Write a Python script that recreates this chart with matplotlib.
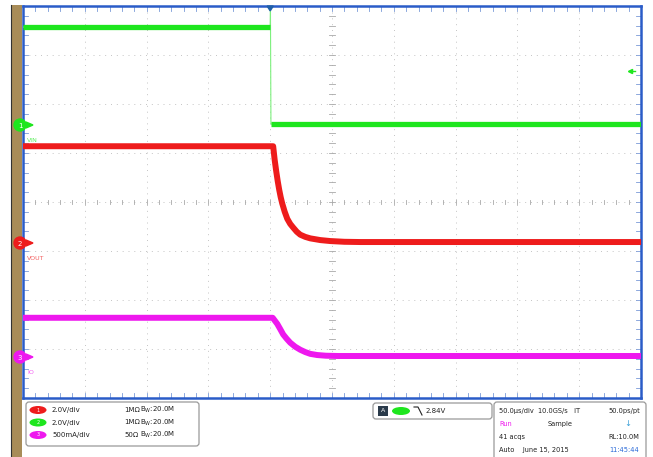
import matplotlib
matplotlib.use('Agg')
import matplotlib.pyplot as plt
from matplotlib.patches import FancyBboxPatch, Ellipse, Rectangle, Circle, Polygon

# Scope settings (50 us/div, 10 x 8 divisions, trigger at 4th division)
t_per_div = 50.0
t_trig_div = 4.0

# Channel scales and ground offsets (in divisions from the bottom)
vin_scale, vin_offset = 2.0, 5.57
vout_scale, vout_offset = 2.0, 3.163
io_scale, io_offset = 0.5, 0.837

# VIN (V) - step down at trigger with a short spike
t_vin = [-200, 0, 0.2, 0.6, 300]
vin = [4.0, 4.0, 4.7, 0.04, 0.04]

# VOUT (V) - decay
t_vout = [-200, 2.4, 3.6, 4.9, 6.1, 7.3, 8.5, 9.7, 11.7, 13.8, 16.2, 18.6,
          21.5, 24.3, 28.4, 32.4, 40.5, 48.6, 60, 73, 300]
vout = [3.95, 3.95, 3.40, 2.92, 2.52, 2.17, 1.87, 1.62, 1.28, 0.99, 0.78, 0.63,
        0.46, 0.34, 0.25, 0.19, 0.12, 0.08, 0.05, 0.04, 0.04]

# IO (A)
t_io = [-200, 2.0, 3.8, 5.7, 8.1, 10.5, 13.4, 16.2, 20.2, 24.3, 28.4, 32.4,
        38, 45, 55, 300]
io = [0.40, 0.40, 0.37, 0.338, 0.285, 0.23, 0.185, 0.146, 0.105, 0.074, 0.050,
      0.032, 0.020, 0.013, 0.010, 0.01]

legend_rows = ["2.0V/div", "2.0V/div", "500mA/div"]
legend_imp = ["1M\u03a9", "1M\u03a9", "50\u03a9"]

green = '#1ee61e'
red = '#ee1c1c'
magenta = '#ee18ee'
blue = '#2a5cc8'

W, H = 653, 457
fig = plt.figure(figsize=(W / 100, H / 100), dpi=100)

# Background axes in pixel coordinates for decorations
bg = fig.add_axes([0, 0, 1, 1])
bg.set_xlim(0, W)
bg.set_ylim(H, 0)
bg.axis('off')

# tan strip on the left
bg.add_patch(Rectangle((11, 5), 11, H - 5, facecolor='#a88c58', edgecolor='none'))
bg.plot([11, 11], [5, H], color='#333333', lw=0.8)

# main screen axes
x0, x1, y0, y1 = 23, 641, 6, 398
ax = fig.add_axes([x0 / W, 1 - y1 / H, (x1 - x0) / W, (y1 - y0) / H])
ax.set_xlim(0, 10)
ax.set_ylim(0, 8)
ax.set_xticks([])
ax.set_yticks([])
for s in ax.spines.values():
    s.set_color(blue)
    s.set_linewidth(1.8)

# graticule
for i in range(1, 10):
    ax.plot([i, i], [0, 8], color='#c4c4c4', lw=0.7, ls=(0, (1, 5)), zorder=1)
for j in range(1, 8):
    ax.plot([0, 10], [j, j], color='#c4c4c4', lw=0.7, ls=(0, (1, 5)), zorder=1)
# minor ticks on center lines and edges
for k in range(1, 50):
    xm = k / 5
    ax.plot([xm, xm], [3.95, 4.05], color='#a8a8a8', lw=0.6, zorder=1)
    ax.plot([xm, xm], [0, 0.1], color='#7a9ad8', lw=0.6, zorder=1)
    ax.plot([xm, xm], [7.9, 8], color='#7a9ad8', lw=0.6, zorder=1)
for k in range(1, 40):
    ym = k / 5
    ax.plot([4.95, 5.05], [ym, ym], color='#a8a8a8', lw=0.6, zorder=1)
    ax.plot([0, 0.08], [ym, ym], color='#7a9ad8', lw=0.6, zorder=1)
    ax.plot([9.92, 10], [ym, ym], color='#7a9ad8', lw=0.6, zorder=1)


def to_div(t_list, v_list, scale, offset):
    xs = [t / t_per_div + t_trig_div for t in t_list]
    ys = [v / scale + offset for v in v_list]
    return xs, ys


# VIN trace: thin edge and thick flat parts
xv, yv = to_div(t_vin, vin, vin_scale, vin_offset)
ax.plot(xv, yv, color='#7ef07e', lw=0.8, zorder=3)
ax.plot(xv[:2], yv[:2], color=green, lw=3.8, solid_capstyle='butt', zorder=3)
ax.plot(xv[3:], yv[3:], color=green, lw=3.8, solid_capstyle='butt', zorder=3)

xo, yo = to_div(t_vout, vout, vout_scale, vout_offset)
ax.plot(xo, yo, color=red, lw=4.3, solid_capstyle='butt', zorder=3)

xi, yi = to_div(t_io, io, io_scale, io_offset)
ax.plot(xi, yi, color=magenta, lw=4.3, solid_capstyle='butt', zorder=3)

# trigger position marker at top
ax.add_patch(Polygon([[3.95, 8.0], [4.05, 8.0], [4.0, 7.9]], closed=True,
                     color='#2060a8', zorder=5, clip_on=False))
# trigger level marker on the right
ax.plot([9.82], [6.67], marker='<', color=green, ms=3, zorder=5)
ax.plot([9.84, 9.9], [6.67, 6.67], color=green, lw=1, zorder=5)

# overlay axes for channel ground markers at the left edge
top = fig.add_axes([0, 0, 1, 1], zorder=10)
top.set_xlim(0, W)
top.set_ylim(H, 0)
top.axis('off')
top.patch.set_alpha(0)

markers = [(125, green, '1', 'VIN'), (243, red, '2', 'VOUT'), (357, magenta, '3', 'IO')]
for py, col, num, lab in markers:
    top.add_patch(Circle((20, py), 6, facecolor=col, edgecolor=col, zorder=6))
    top.text(20, py + 0.5, num, color='white', fontsize=5, ha='center', va='center', zorder=7)
    top.add_patch(Polygon([[26, py - 3], [33, py], [26, py + 3]], closed=True, color=col, zorder=6))
    top.text(27, py + 15, lab, color=col, fontsize=4.5, alpha=0.7, ha='left', va='center', zorder=7)

# ---- bottom panel ----
bg.add_patch(FancyBboxPatch((26, 402), 173, 44, boxstyle='round,pad=0,rounding_size=3',
                            facecolor='white', edgecolor='#9a9a9a', lw=0.9))
row_cols = [red, green, magenta]
for r in range(3):
    yy = 410 + r * 12.5
    bg.add_patch(Ellipse((38, yy), 17, 8, facecolor=row_cols[r], edgecolor='none'))
    bg.text(38, yy, str(r + 1), color='white', fontsize=3.5, ha='center', va='center')
    bg.text(52, yy, legend_rows[r], fontsize=5, ha='left', va='center', color='#222222')
    bg.text(124, yy, legend_imp[r], fontsize=5, ha='left', va='center', color='#222222')
    bg.text(140, yy, '$\\mathrm{B_W}$:20.0M', fontsize=5, ha='left', va='center', color='#222222')

# trigger box
bg.add_patch(FancyBboxPatch((373, 403), 119, 16, boxstyle='round,pad=0,rounding_size=3',
                            facecolor='white', edgecolor='#9a9a9a', lw=0.9))
bg.add_patch(Rectangle((378, 406), 10, 10, facecolor='#2a3a4a', edgecolor='none'))
bg.text(383, 411, 'A', color='white', fontsize=4.5, ha='center', va='center')
bg.add_patch(Ellipse((401, 411), 18, 8, facecolor=green, edgecolor='none'))
bg.plot([414, 418, 422], [407, 407, 415], color='#222222', lw=0.8)
bg.text(426, 411, '2.84V', fontsize=5, ha='left', va='center', color='#222222')

# acquisition info box
bg.add_patch(FancyBboxPatch((494, 402), 152, 60, boxstyle='round,pad=0,rounding_size=3',
                            facecolor='white', edgecolor='#9a9a9a', lw=0.9))
fs = 4.8
bg.text(499, 411, '50.0\u00b5s/div  10.0GS/s   IT', fontsize=fs, ha='left', va='center', color='#222222')
bg.text(640, 411, '50.0ps/pt', fontsize=fs, ha='right', va='center', color='#222222')
bg.text(499, 424, 'Run', fontsize=fs, ha='left', va='center', color=magenta)
bg.text(560, 424, 'Sample', fontsize=fs, ha='center', va='center', color='#222222')
bg.text(628, 423, '\u2193', fontsize=6, ha='center', va='center', color='#3aa0d8')
bg.text(499, 437, '41 acqs', fontsize=fs, ha='left', va='center', color='#222222')
bg.text(639, 437, 'RL:10.0M', fontsize=fs, ha='right', va='center', color='#222222')
bg.text(499, 450, 'Auto    June 15, 2015', fontsize=fs, ha='left', va='center', color='#222222')
bg.text(639, 450, '11:45:44', fontsize=fs, ha='right', va='center', color='#2a6ad8')

fig.savefig('out.png', dpi=100)
